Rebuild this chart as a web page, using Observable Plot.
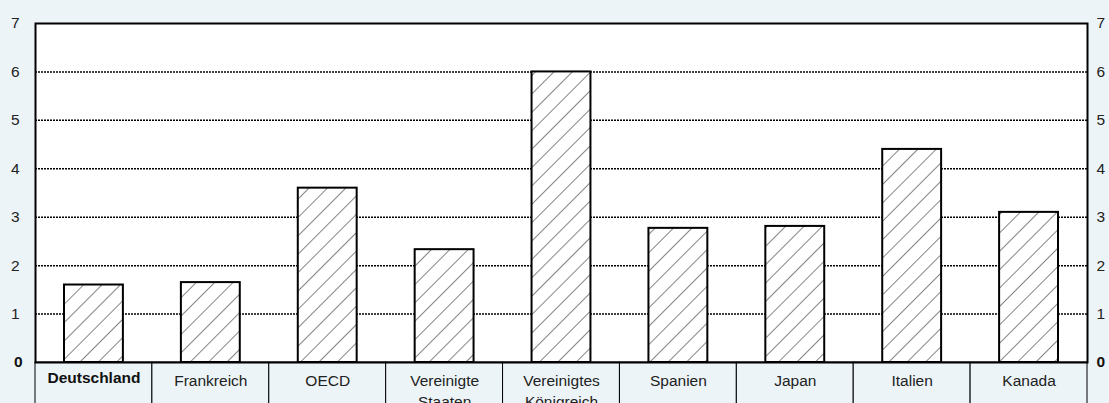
<!DOCTYPE html>
<html><head><meta charset="utf-8">
<script src="https://cdn.jsdelivr.net/npm/d3@7"></script>
<script src="https://cdn.jsdelivr.net/npm/@observablehq/plot@0.6"></script>
<style>
html,body{margin:0;padding:0;background:#ecf4f8;}
svg{display:block;}
</style></head>
<body><div id="chart"></div>
<script>
const categories = ["Deutschland","Frankreich","OECD","Vereinigte Staaten","Vereinigtes Königreich","Spanien","Japan","Italien","Kanada"];
const labels = ["Deutschland","Frankreich","OECD","Vereinigte\nStaaten","Vereinigtes\nKönigreich","Spanien","Japan","Italien","Kanada"];
const values = [1.6, 1.65, 3.6, 2.33, 6.0, 2.77, 2.81, 4.4, 3.1];
const yTicks = [1,2,3,4,5,6,7];
const gridTicks = [1,2,3,4,5,6];

const data = categories.map((c,i)=>({cat:c, label:labels[i], value:values[i]}));
const font = "Liberation Sans, Arial, sans-serif";
const fs = 15.5;

const chart = Plot.plot({
  width: 1109, height: 403,
  marginLeft: 35, marginRight: 22, marginTop: 23, marginBottom: 41,
  style: {background: "#ecf4f8", fontFamily: font, fontSize: fs + "px", color: "#000"},
  x: {domain: categories, padding: 0, round: false, axis: null},
  y: {domain: [0,7], axis: null},
  marks: [
    Plot.frame({fill: "white", stroke: "none"}),
    Plot.ruleY(gridTicks, {stroke: "black", strokeWidth: 1.5, strokeDasharray: "2,1"}),
    Plot.barY(data, {x: "cat", y: "value", fill: "white", insetLeft: 29, insetRight: 29}),
    Plot.barY(data, {x: "cat", y: "value", fill: "url(#hatch)", stroke: "black", strokeWidth: 2, insetLeft: 29, insetRight: 29}),
    Plot.barY(data, {x: "cat", y1: 0, y2: -0.9, fill: "#ecf4f8", stroke: "black", strokeWidth: 1, clip: false}),
    Plot.frame({stroke: "black", strokeWidth: 2}),
    Plot.text(data.filter(d=>d.cat==="Deutschland"), {x: "cat", y: 0, text: "label", dy: 9, lineAnchor: "top", fontSize: fs, fontWeight: "bold", fill: "#111"}),
    Plot.text(data.filter(d=>d.cat!=="Deutschland"), {x: "cat", y: 0, text: "label", dy: 9, lineAnchor: "top", lineHeight: 1.35, fontSize: fs, fill: "#222"}),
    Plot.text(yTicks, {y: d=>d, frameAnchor: "left", dx: -16, textAnchor: "end", text: d=>String(d), fontSize: fs, fill: "#222"}),
    Plot.text([0], {y: d=>d, frameAnchor: "left", dx: -13, textAnchor: "end", text: d=>String(d), fontSize: fs, fontWeight: "bold", fill: "#111"}),
    Plot.text(yTicks, {y: d=>d, frameAnchor: "right", dx: 9, textAnchor: "start", text: d=>String(d), fontSize: fs, fill: "#222"}),
    Plot.text([0], {y: d=>d, frameAnchor: "right", dx: 9, textAnchor: "start", text: d=>String(d), fontSize: fs, fontWeight: "bold", fill: "#111"})
  ]
});

const svg = d3.select(chart);
const defs = svg.insert("defs", ":first-child");
const pat = defs.append("pattern").attr("id","hatch").attr("patternUnits","userSpaceOnUse")
  .attr("width",13).attr("height",13).attr("patternTransform","rotate(45)");
pat.append("rect").attr("width",13).attr("height",13).attr("fill","white");
pat.append("line").attr("x1",0).attr("y1",0).attr("x2",0).attr("y2",13).attr("stroke","#333").attr("stroke-width",1.2);
document.getElementById("chart").appendChild(chart);
</script>
</body></html>
